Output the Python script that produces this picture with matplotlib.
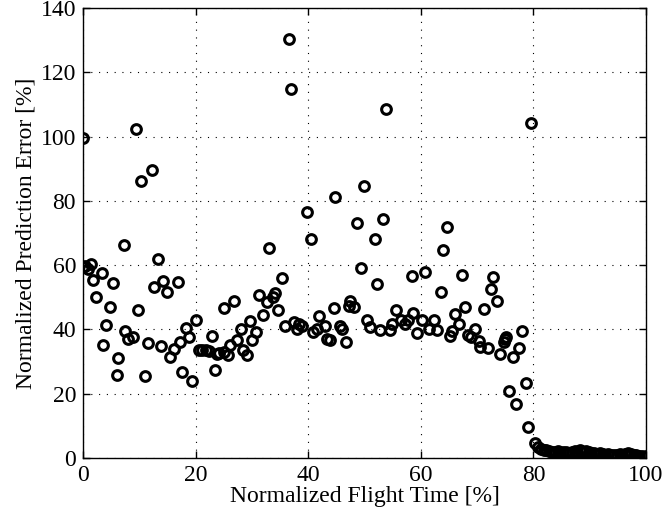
import matplotlib
matplotlib.use("Agg")
import matplotlib.pyplot as plt

# normalized flight time [%]
flight_time = [
    0.0, 0.0, 0.4, 0.95, 1.4, 1.8, 2.4, 3.3, 3.6, 4.0, 4.8, 5.4, 6.0, 6.3, 7.2, 7.5,
    8.05, 8.8, 9.4, 9.8, 10.3, 11.0, 11.5, 12.3, 12.6, 13.4, 13.8, 14.3, 14.9, 15.5,
    16.2, 16.8, 17.2, 17.5, 18.3, 18.9, 19.4, 20.0,
    20.6, 21.2, 21.8, 22.4, 23.0, 23.4, 23.8, 24.2, 25.0, 25.1, 25.8, 26.1, 26.9,
    27.3, 28.0, 28.4, 29.2, 29.7, 30.1, 30.8, 31.3, 32.0, 32.7, 33.1, 33.7, 34.1,
    34.7, 35.4,
    35.9, 36.6, 37.0, 37.4, 38.0, 38.3, 38.9, 39.8, 40.5, 40.9, 41.5, 42.0, 43.0,
    43.4, 43.8, 44.5, 44.8, 45.6, 46.0, 46.8, 47.2, 47.5, 48.2, 48.7, 49.4, 49.9,
    50.4, 51.0, 51.8, 52.2, 52.8, 53.3, 53.8, 54.6, 54.9, 55.6, 56.4, 57.2, 57.8,
    58.4, 58.7, 59.3, 60.2, 60.7, 61.4, 62.3, 62.9, 63.5, 63.9, 64.6, 65.1, 65.6,
    66.1, 66.7, 67.3, 67.8, 68.3, 68.9, 69.7, 70.4, 70.6, 71.2, 71.9, 72.4, 72.9,
    73.5, 74.0, 74.7, 75.0, 75.2, 75.6, 76.4, 76.9, 77.5, 78.0, 78.6, 79.1, 79.6,
    80.3, 80.8, 81.3, 81.8, 82.3, 82.8, 83.3, 83.8, 84.3, 84.8, 85.3, 85.8, 86.3,
    86.8, 87.3, 87.8, 88.3, 88.8, 89.3, 89.8, 90.3, 90.8, 91.3, 91.8, 92.3, 92.8,
    93.3, 93.8, 94.3, 94.8, 95.3, 95.8, 96.3, 96.8, 97.3, 97.8, 98.3, 98.8, 99.3,
    100.0,
]

# normalized prediction error [%]
pred_error = [
    99.7, 59.6, 59.8, 58.8, 60.4, 55.4, 50.2, 57.5, 35.3, 41.3, 46.9, 54.4, 25.7, 31.0,
    66.4, 39.4, 37.1, 37.6, 102.5, 46.2, 86.2, 25.4, 35.7, 89.6, 53.3, 61.8, 35.0,
    55.0, 51.8, 31.4, 33.8, 54.7, 36.2, 26.9, 40.5, 37.8, 24.1, 42.8,
    33.7, 33.7, 33.5, 33.4, 38.1, 27.3, 32.4, 32.6, 32.9, 46.7, 31.9, 35.3, 49.0,
    36.8, 40.2, 33.7, 32.1, 42.5, 36.6, 39.1, 50.7, 44.5, 48.4, 65.5, 50.0, 51.2,
    46.2, 55.9,
    41.2, 130.4, 114.8, 42.2, 40.2, 41.7, 41.2, 76.7, 68.3, 39.1, 40.2, 44.3, 41.2,
    37.1, 36.6, 46.7, 81.1, 41.2, 40.2, 36.0, 47.4, 48.8, 46.9, 73.1, 59.0, 84.7,
    42.8, 40.7, 68.3, 54.3, 39.7, 74.3, 108.5, 39.7, 41.7, 46.0, 42.8, 41.7, 42.8,
    56.5, 45.0, 38.8, 42.8, 57.8, 40.2, 43.0, 39.7, 51.8, 64.6, 71.8, 38.0, 39.5,
    44.9, 41.7, 57.0, 47.0, 38.2, 37.8, 40.0, 36.3, 34.7, 46.5, 34.1, 52.5, 56.2,
    49.0, 32.4, 36.0, 36.9, 37.8, 20.8, 31.4, 16.9, 34.2, 39.5, 23.3, 9.7, 104.3,
    4.7, 3.3, 2.8, 2.5, 2.6, 2.2, 2.0, 1.8, 2.1, 1.6, 1.9, 2.0, 1.5,
    1.8, 2.1, 1.7, 2.4, 2.0, 2.2, 1.8, 1.6, 1.4, 1.3, 1.5, 1.1, 1.0,
    1.2, 0.9, 1.0, 0.8, 1.1, 0.9, 1.3, 1.5, 1.2, 1.0, 0.8, 0.7, 0.6,
    0.5,
]

x_ticks = [0, 20, 40, 60, 80, 100]
y_ticks = [0, 20, 40, 60, 80, 100, 120, 140]

plt.rcParams['font.family'] = ['Liberation Serif', 'DejaVu Serif']
plt.rcParams['font.size'] = 17

fig = plt.figure(figsize=(6.66, 5.14), dpi=100)
ax = fig.add_axes([0.1246, 0.109, 0.8454, 0.875])

ax.plot(flight_time, pred_error, linestyle='none', marker='o', markersize=7.0,
        markerfacecolor='none', markeredgecolor='black', markeredgewidth=2.2)

ax.set_xlim(0, 100)
ax.set_ylim(0, 140)
ax.set_xticks(x_ticks)
ax.set_yticks(y_ticks)

# matlab style: inward ticks on all sides, dotted grid
ax.tick_params(direction='in', top=True, right=True, length=5, width=1, pad=5)
ax.grid(True, color='black', linestyle=(0, (1, 6)), linewidth=0.8)
for s in ax.spines.values():
    s.set_linewidth(1.0)

ax.set_xlabel('Normalized Flight Time [%]', labelpad=0)
ax.set_ylabel('Normalized Prediction Error [%]', labelpad=3)

fig.savefig('out.png', dpi=100)
